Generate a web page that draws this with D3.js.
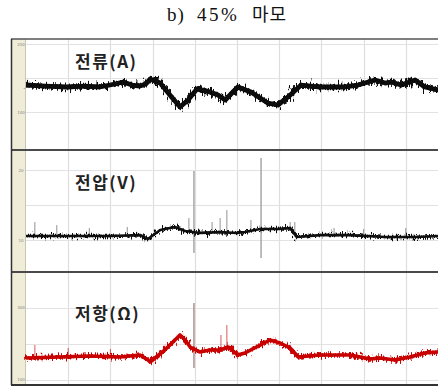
<!DOCTYPE html>
<html>
<head>
<meta charset="utf-8">
<script src="https://cdn.jsdelivr.net/npm/d3@7"></script>
<style>
  body { margin: 0; background: #fff; }
  svg { display: block; }
</style>
</head>
<body>
<svg id="chart" width="438" height="388"></svg>
<script>
// time axis: 10 grid divisions (s)
const timeTicks = [1, 2, 3, 4, 5, 6, 7, 8, 9];

// 전류 (A)
const currentT = [0, 0.45, 0.97, 1.40, 1.75, 2.11, 2.30, 2.51, 2.70, 2.84, 2.94, 3.18, 3.41, 3.65, 3.84, 4.05, 4.29, 4.55, 4.72, 5.02, 5.33, 5.73, 5.97, 6.21, 6.52, 6.92, 7.56, 7.87, 8.27, 8.51, 8.65, 8.89, 9.22, 9.45, 9.76, 10];
const currentA = [139.7, 138.2, 136.8, 138.2, 136.8, 141.2, 144.1, 139.7, 138.2, 141.2, 148.5, 142.6, 125, 107.4, 117.6, 133.8, 130.9, 125, 117.6, 136.8, 129.4, 113.2, 110.3, 122.1, 139.7, 136.8, 136.8, 139.7, 147.1, 142.6, 144.1, 139.7, 147.1, 136.8, 132.4, 132.4];
const currentTicks = [200, 150, 100];

// 전압 (V)
const voltageT = [0, 0.57, 1.28, 1.99, 2.70, 2.89, 3.18, 3.53, 3.77, 4.12, 4.60, 5.0, 5.19, 5.55, 5.97, 6.26, 6.42, 6.97, 7.68, 8.51, 9.24, 9.76, 10];
const voltageV = [10.57, 10.57, 10.57, 10.57, 10.71, 10.14, 11.43, 11.86, 11.29, 11.0, 11.14, 11.0, 11.14, 11.57, 11.57, 11.71, 10.43, 10.71, 10.71, 10.43, 10.43, 10.57, 10.57];
const voltageTicks = [20, 15, 10];
// tall gray transients
const voltSpikeT = [3.98, 5.57];
const voltSpikeTop = [19.86, 21.71];
const voltSpikeBottom = [8.14, 7.43];
// short upward noise spikes
const voltBlipT = [0.21, 0.73, 1.5, 2.4, 3.86, 4.41, 4.60, 4.76, 5.33, 6.26, 6.37, 7.3, 8.0, 9.0];
const voltBlipTop = [12.57, 12.14, 11.71, 11.86, 13.14, 12.57, 13.14, 14.29, 12.86, 12.57, 12.57, 11.71, 11.57, 11.71];

// 저항 (Ω)
const resistT = [0, 0.81, 1.52, 2.23, 2.70, 2.89, 2.94, 3.29, 3.53, 3.65, 3.77, 3.89, 4.12, 4.36, 4.60, 4.79, 5.02, 5.19, 5.55, 5.78, 6.02, 6.26, 6.45, 6.97, 7.68, 8.15, 8.39, 8.74, 9.10, 9.45, 9.76, 10];
const resistO = [161.1, 163.9, 166.7, 163.9, 169.4, 155.6, 150, 183.3, 211.1, 225, 211.1, 191.7, 177.8, 183.3, 183.3, 191.7, 169.4, 175, 197.2, 211.1, 202.8, 188.9, 163.9, 169.4, 169.4, 158.3, 161.1, 155.6, 163.9, 175, 177.8, 177.8];
const resistTicks = [300, 200, 100];
const resSpikeT = [3.98];
const resSpikeTop = [313.9];
const resSpikeBottom = [133.3];
const resBlipT = [0.21, 1.0, 2.0, 4.62, 4.76];
const resBlipTop = [197.2, 188.9, 186.1, 225, 252.8];

const svg = d3.select("#chart");
const W = 438, H = 388;
const frameL = 11, stripR = 25, plotL = 26, plotR = 448;
const frameTop = 39, frameBot = 385;

const x = d3.scaleLinear().domain([0, 10]).range([plotL, plotR]);

const panels = [
  { top: 39, bottom: 150, domain: [44.1, 207.4], ticks: currentTicks, label: "전류(A)", labelY: 68,
    t: currentT, v: currentA, color: "#0a0a0a", core: 4.8, fuzz: 4.5, jit: "jitterA" },
  { top: 150, bottom: 272, domain: [5.43, 22.86], ticks: voltageTicks, label: "전압(V)", labelY: 189,
    t: voltageT, v: voltageV, color: "#111", core: 2.7, fuzz: 2.6, jit: "jitterB" },
  { top: 272, bottom: 385, domain: [86.1, 400], ticks: resistTicks, label: "저항(Ω)", labelY: 320,
    t: resistT, v: resistO, color: "#c80000", core: 3.6, fuzz: 3.4, jit: "jitterB" }
];
panels.forEach((p) => {
  p.y = d3.scaleLinear().domain(p.domain).range([p.bottom, p.top]);
});

// noise texture for the traces
const defs = svg.append("defs");
function addJitter(id, freq, scale, seed) {
  const f = defs.append("filter")
    .attr("id", id)
    .attr("filterUnits", "userSpaceOnUse")
    .attr("x", 0).attr("y", 0).attr("width", W).attr("height", H);
  f.append("feTurbulence")
    .attr("type", "fractalNoise")
    .attr("baseFrequency", freq)
    .attr("numOctaves", 2)
    .attr("seed", seed)
    .attr("result", "noise");
  f.append("feDisplacementMap")
    .attr("in", "SourceGraphic")
    .attr("in2", "noise")
    .attr("scale", scale)
    .attr("xChannelSelector", "A")
    .attr("yChannelSelector", "G");
}
addJitter("jitterA", "0.6 0.12", 14, 4);
addJitter("jitterB", "0.8 0.18", 11, 7);

// title
const title = svg.append("text")
  .attr("y", 21)
  .attr("font-family", "'Liberation Serif', 'Times New Roman', serif")
  .attr("font-size", 19)
  .attr("fill", "#111");
title.append("tspan").attr("x", 167).attr("letter-spacing", 1).text("b)");
title.append("tspan").attr("x", 197).attr("letter-spacing", 2.5).text("45%");
title.append("tspan").attr("x", 252)
  .attr("font-family", "'Noto Sans CJK KR', sans-serif")
  .attr("font-size", 18)
  .attr("letter-spacing", 1)
  .text("마모");

// plot background + left strip
svg.append("rect")
  .attr("x", frameL).attr("y", frameTop)
  .attr("width", W - frameL).attr("height", frameBot - frameTop)
  .attr("fill", "#fff");
svg.append("rect")
  .attr("x", frameL).attr("y", frameTop)
  .attr("width", stripR - frameL).attr("height", frameBot - frameTop)
  .attr("fill", "#efecd8");
svg.append("line")
  .attr("x1", stripR + 0.5).attr("x2", stripR + 0.5)
  .attr("y1", frameTop).attr("y2", frameBot)
  .attr("stroke", "#c9c6b4");

// vertical grid
svg.append("g")
  .selectAll("line")
  .data(timeTicks)
  .join("line")
  .attr("x1", (d) => Math.round(x(d)) + 0.5)
  .attr("x2", (d) => Math.round(x(d)) + 0.5)
  .attr("y1", frameTop)
  .attr("y2", frameBot)
  .attr("stroke", "#dedede")
  .attr("stroke-width", 1.2);

const line = d3.line().curve(d3.curveLinear);

panels.forEach((p, i) => {
  const g = svg.append("g");

  // horizontal grid
  g.selectAll("line.h")
    .data(p.ticks)
    .join("line")
    .attr("class", "h")
    .attr("x1", plotL).attr("x2", W)
    .attr("y1", (d) => Math.round(p.y(d)) + 0.5)
    .attr("y2", (d) => Math.round(p.y(d)) + 0.5)
    .attr("stroke", "#e2e2e2")
    .attr("stroke-width", 1.2);

  // tiny tick labels on the strip (first and last tick)
  const lab = [p.ticks[0], p.ticks[p.ticks.length - 1]];
  g.selectAll("text.tk")
    .data(lab)
    .join("text")
    .attr("class", "tk")
    .attr("x", 21)
    .attr("y", (d) => p.y(d) + 1.5)
    .attr("text-anchor", "middle")
    .attr("font-family", "'DejaVu Sans', sans-serif")
    .attr("font-size", 4)
    .attr("fill", "#888")
    .text((d) => d);

  // transients
  if (i === 1) {
    g.selectAll("line.sp")
      .data(voltSpikeT)
      .join("line")
      .attr("x1", (d) => x(d)).attr("x2", (d) => x(d))
      .attr("y1", (d, k) => p.y(voltSpikeTop[k]))
      .attr("y2", (d, k) => p.y(voltSpikeBottom[k]))
      .attr("stroke", "#999").attr("stroke-width", 1.3);
    g.selectAll("line.bl")
      .data(voltBlipT)
      .join("line")
      .attr("x1", (d) => x(d)).attr("x2", (d) => x(d))
      .attr("y1", (d, k) => p.y(voltBlipTop[k]))
      .attr("y2", (d) => p.y(d3.least(voltageT.map((t, j) => [Math.abs(t - d), voltageV[j]]), (a) => a[0])[1]))
      .attr("stroke", "#777").attr("stroke-width", 0.8);
  }
  if (i === 2) {
    g.selectAll("line.sp")
      .data(resSpikeT)
      .join("line")
      .attr("x1", (d) => x(d)).attr("x2", (d) => x(d))
      .attr("y1", (d, k) => p.y(resSpikeTop[k]))
      .attr("y2", (d, k) => p.y(resSpikeBottom[k]))
      .attr("stroke", "#a08080").attr("stroke-width", 1.3);
    g.selectAll("line.bl")
      .data(resBlipT)
      .join("line")
      .attr("x1", (d) => x(d)).attr("x2", (d) => x(d))
      .attr("y1", (d, k) => p.y(resBlipTop[k]))
      .attr("y2", (d) => p.y(d3.least(resistT.map((t, j) => [Math.abs(t - d), resistO[j]]), (a) => a[0])[1]))
      .attr("stroke", "#d03030").attr("stroke-width", 0.8);
  }

  // trace: solid core + jittered fringe
  const pts = p.t.map((t, k) => [x(t), p.y(p.v[k])]);
  g.append("path")
    .attr("d", line(pts))
    .attr("fill", "none")
    .attr("stroke", p.color)
    .attr("stroke-width", p.core)
    .attr("stroke-linejoin", "round");
  g.append("path")
    .attr("d", line(pts))
    .attr("fill", "none")
    .attr("stroke", p.color)
    .attr("stroke-width", p.fuzz)
    .attr("stroke-linejoin", "round")
    .attr("filter", `url(#${p.jit})`);

  // panel label
  g.append("text")
    .attr("x", 75)
    .attr("y", p.labelY)
    .attr("font-family", "'Noto Sans CJK KR', sans-serif")
    .attr("font-weight", 700)
    .attr("font-size", 17)
    .attr("letter-spacing", 1.5)
    .attr("fill", "#222")
    .text(p.label);
});

// panel separators and frame
svg.append("g")
  .selectAll("line")
  .data([150, 272])
  .join("line")
  .attr("x1", frameL).attr("x2", W)
  .attr("y1", (d) => d).attr("y2", (d) => d)
  .attr("stroke", "#4a4a4a")
  .attr("stroke-width", 2);
svg.append("line")
  .attr("x1", frameL).attr("x2", W)
  .attr("y1", frameTop).attr("y2", frameTop)
  .attr("stroke", "#555").attr("stroke-width", 1.5);
svg.append("line")
  .attr("x1", frameL).attr("x2", W)
  .attr("y1", frameBot).attr("y2", frameBot)
  .attr("stroke", "#333").attr("stroke-width", 2);
svg.append("line")
  .attr("x1", frameL + 0.5).attr("x2", frameL + 0.5)
  .attr("y1", frameTop).attr("y2", frameBot)
  .attr("stroke", "#333").attr("stroke-width", 1.5);
</script>
</body>
</html>
